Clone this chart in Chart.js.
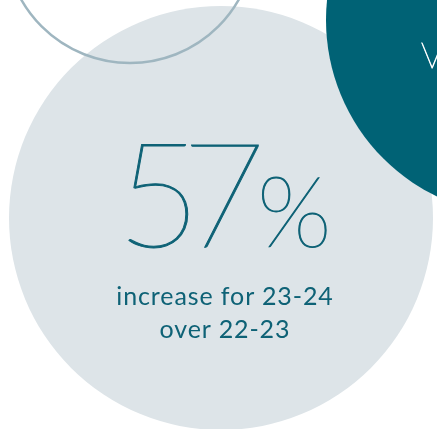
<!DOCTYPE html>
<html>
<head>
<meta charset="utf-8">
<script src="https://cdn.jsdelivr.net/npm/chart.js@4"></script>
<style>
  html, body { margin: 0; padding: 0; background: #ffffff; overflow: hidden; }
  #wrap { position: relative; width: 437px; height: 429px; }
  #wrap canvas { position: absolute; left: 0; top: 0; }
  .txt { position: absolute; color: #0e6276; text-align: center; white-space: nowrap; }
  #big { left: 74px; width: 300px; top: 118px; font-family: Lato, sans-serif; font-weight: 100; line-height: 1; -webkit-text-stroke: 1px #0e6276; }
  #big .num { font-size: 146px; letter-spacing: -20px; }
  #big .pct { font-size: 98px; margin-left: 11px; }
  #sub { left: 75px; width: 300px; top: 279px; font-family: Lato, sans-serif; font-size: 25px; line-height: 33px; letter-spacing: 0.9px; }
  #side { left: 421px; top: 33px; color: #ffffff; font-family: Lato, sans-serif; font-weight: 100; font-size: 35px; -webkit-text-stroke: 0.8px #ffffff; }
</style>
</head>
<body>
<div id="wrap">
  <canvas id="c" width="437" height="429"></canvas>
  <div class="txt" id="big"><span class="num"></span><span class="pct">%</span></div>
  <div class="txt" id="sub"></div>
  <div class="txt" id="side">V</div>
</div>
<script>
// headline figure and caption
const increasePct = 57;
const captionLines = ["increase for 23-24", "over 22-23"];

// decorative circles (page pixels: x, y of centre, radius)
const circleNames = ["ring", "teal", "panel"];
const circleX = [130, 522, 221];
const circleY = [-62, 20, 218];
const circleR = [125, 196, 212];
const circleFill = ["rgba(0,0,0,0)", "#006275", "#dde4e8"];
const circleLine = ["#9fb6c0", "#006275", "#dde4e8"];
const circleLineW = [2.5, 0, 0];

document.querySelector('#big .num').textContent = increasePct;
document.getElementById('sub').innerHTML = captionLines.join('<br>');

const datasets = circleNames.map((name, i) => ({
    label: name,
    data: [{ x: circleX[i], y: circleY[i], r: circleR[i] }],
    backgroundColor: circleFill[i],
    borderColor: circleLine[i],
    borderWidth: circleLineW[i],
    hoverRadius: 0,
    clip: false,
    order: i
}));

new Chart(document.getElementById('c'), {
    type: 'bubble',
    data: { datasets: datasets },
    options: {
        responsive: false,
        animation: false,
        events: [],
        layout: { padding: 0, autoPadding: false },
        plugins: { legend: { display: false }, tooltip: { enabled: false } },
        scales: {
            x: { type: 'linear', min: 0, max: 437, display: false },
            y: { type: 'linear', min: 0, max: 429, reverse: true, display: false }
        }
    }
});
</script>
</body>
</html>
